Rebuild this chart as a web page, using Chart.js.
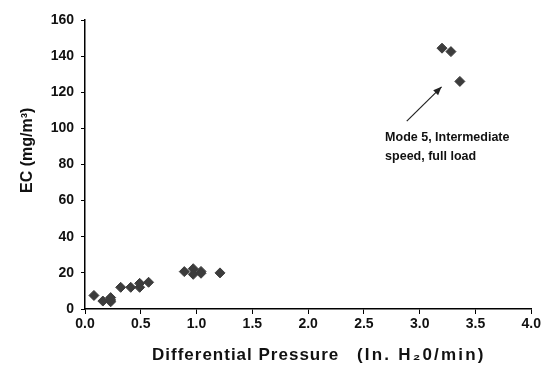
<!DOCTYPE html>
<html lang="en">
<head>
<meta charset="UTF-8">
<title>EC vs Differential Pressure</title>
<script src="https://cdn.jsdelivr.net/npm/chart.js"></script>
<style>
  html, body { margin: 0; padding: 0; background: #fff; }
  #wrap { width: 543px; height: 366px; position: relative; }
</style>
</head>
<body>
<div id="wrap"><canvas id="myChart" width="543" height="366"></canvas></div>
<script>
// data
var pressure = [0.08, 0.16, 0.23, 0.23, 0.23, 0.32, 0.41, 0.49, 0.49, 0.57,
                0.89, 0.97, 0.97, 1.04, 1.04, 1.21, 3.20, 3.28, 3.36];
var ecValues = [7.5, 4.4, 4, 5, 6.3, 12, 12, 12, 14.2, 14.8,
                20.7, 22.3, 19.2, 20.8, 19.8, 20, 144.4, 142.5, 126];
var xTicks = [0, 0.5, 1.0, 1.5, 2.0, 2.5, 3.0, 3.5, 4.0];
var yTicks = [0, 20, 40, 60, 80, 100, 120, 140, 160];
var noteLines = ['Mode 5, Intermediate', 'speed, full load'];

var points = pressure.map(function (p, i) { return { x: p, y: ecValues[i] }; });

// arrow, note text and axis titles
var extras = {
    id: 'extras',
    afterDraw: function (chart) {
        var ctx = chart.ctx;
        var xs = chart.scales.x, ys = chart.scales.y;
        ctx.save();
        // arrow
        var x0 = xs.getPixelForValue(2.884), y0 = ys.getPixelForValue(104);
        var x1 = xs.getPixelForValue(3.196), y1 = ys.getPixelForValue(123);
        ctx.strokeStyle = '#222';
        ctx.fillStyle = '#222';
        ctx.lineWidth = 1.2;
        ctx.beginPath();
        ctx.moveTo(x0, y0);
        ctx.lineTo(x1, y1);
        ctx.stroke();
        var a = Math.atan2(y1 - y0, x1 - x0);
        ctx.beginPath();
        ctx.moveTo(x1, y1);
        ctx.lineTo(x1 - 9 * Math.cos(a - 0.4), y1 - 9 * Math.sin(a - 0.4));
        ctx.lineTo(x1 - 9 * Math.cos(a + 0.4), y1 - 9 * Math.sin(a + 0.4));
        ctx.closePath();
        ctx.fill();
        // note
        ctx.fillStyle = '#111';
        ctx.font = 'bold 12.5px "Liberation Sans", Arial, sans-serif';
        ctx.textAlign = 'left';
        ctx.textBaseline = 'alphabetic';
        var tx = xs.getPixelForValue(2.69);
        ctx.fillText(noteLines[0], tx, ys.getPixelForValue(93));
        ctx.fillText(noteLines[1], tx, ys.getPixelForValue(82.3));
        // axis titles
        ctx.font = 'bold 17px "Liberation Sans", Arial, sans-serif';
        ctx.letterSpacing = '1px';
        ctx.fillText('Differential Pressure', 152, 360);
        ctx.letterSpacing = '2.2px';
        ctx.fillText('(In. H\u20820/min)', 357, 360);
        ctx.font = 'bold 16px "Liberation Sans", Arial, sans-serif';
        ctx.letterSpacing = '0px';
        ctx.translate(32, 193);
        ctx.rotate(-Math.PI / 2);
        ctx.fillText('EC (mg/m\u00B3)', 0, 0);
        ctx.restore();
    }
};

var tickFont = { family: '"Liberation Sans", Arial, sans-serif', size: 14, weight: 'bold' };

new Chart(document.getElementById('myChart'), {
    type: 'scatter',
    data: {
        datasets: [{
            data: points,
            pointStyle: 'rectRot',
            pointRadius: 5,
            pointHoverRadius: 5,
            backgroundColor: '#3c3c3c',
            borderColor: '#3c3c3c',
            borderWidth: 1
        }]
    },
    options: {
        responsive: false,
        animation: false,
        layout: { padding: { top: 20, right: 10, left: 0, bottom: 0 } },
        plugins: { legend: { display: false }, tooltip: { enabled: false } },
        scales: {
            x: {
                type: 'linear',
                min: 0, max: 4,
                afterBuildTicks: function (s) { s.ticks = xTicks.map(function (v) { return { value: v }; }); },
                afterFit: function (s) { s.height = 57; },
                ticks: {
                    color: '#111', font: tickFont, padding: 2,
                    callback: function (v) { return Number(v).toFixed(1); }
                },
                grid: { drawOnChartArea: false, drawTicks: true, tickLength: 5, color: '#000' },
                border: { color: '#000', width: 1.5 }
            },
            y: {
                min: 0, max: 160,
                afterBuildTicks: function (s) { s.ticks = yTicks.map(function (v) { return { value: v }; }); },
                afterFit: function (s) { s.width = 85; },
                ticks: { color: '#111', font: tickFont, padding: 7 },
                grid: { drawOnChartArea: false, drawTicks: true, tickLength: 4, color: '#000' },
                border: { color: '#000', width: 1.5 }
            }
        }
    },
    plugins: [extras]
});
</script>
</body>
</html>
